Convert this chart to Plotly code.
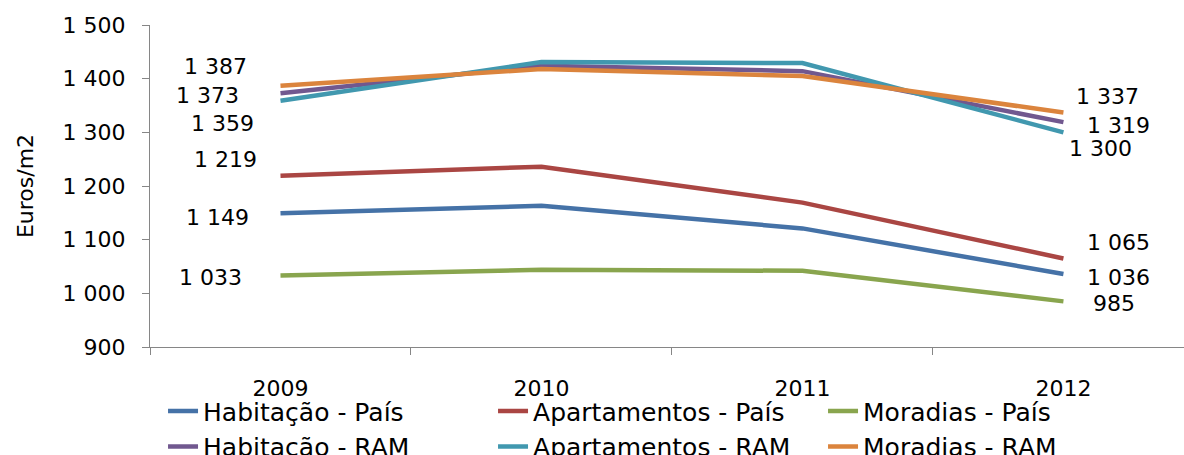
import plotly.graph_objects as go

# Average bank valuation of housing (euros per m2)
years = ["2009", "2010", "2011", "2012"]

habitacao_pais = [1149, 1163, 1121, 1036]
apartamentos_pais = [1219, 1236, 1169, 1065]
moradias_pais = [1033, 1044, 1042, 985]
habitacao_ram = [1373, 1424, 1414, 1319]
apartamentos_ram = [1359, 1431, 1429, 1300]
moradias_ram = [1387, 1418, 1405, 1337]

series_names = [
    "Habitação - País",
    "Apartamentos - País",
    "Moradias - País",
    "Habitação - RAM",
    "Apartamentos - RAM",
    "Moradias - RAM",
]
series_values = [
    habitacao_pais,
    apartamentos_pais,
    moradias_pais,
    habitacao_ram,
    apartamentos_ram,
    moradias_ram,
]
colors = ["#4572A7", "#AA4643", "#89A54E", "#71588F", "#4198AF", "#DB843D"]

# pixel offsets of the first / last value labels (dx, dy) per series
first_label_offset = [(-63, -4), (-55, 16), (-70, -2), (-73, -2), (-58, -23), (-65, 19)]
last_label_offset = [(55, -3), (55, 16), (51, -2), (55, -3), (37, -16), (44, 16)]

FONT = "DejaVu Sans, sans-serif"
AXIS_GRAY = "#868686"


def fmt(v):
    return f"{v:,}".replace(",", " ")


fig = go.Figure()
annotations = []
for name, vals, col, fo, lo in zip(series_names, series_values, colors,
                                   first_label_offset, last_label_offset):
    fig.add_trace(go.Scatter(
        x=years, y=vals, name=name, mode="lines",
        line=dict(color=col, width=4.5),
    ))
    for idx, off in ((0, fo), (len(vals) - 1, lo)):
        # category axes take the category index as annotation position
        annotations.append(dict(
            x=idx, y=vals[idx], xref="x", yref="y",
            text=fmt(vals[idx]), showarrow=False,
            xshift=off[0], yshift=off[1],
            xanchor="center", yanchor="middle",
            font=dict(family=FONT, size=22, color="black"),
        ))

fig.update_layout(
    width=1184,
    height=455,
    margin=dict(l=150, r=0, t=25, b=108, autoexpand=False),
    paper_bgcolor="white",
    plot_bgcolor="white",
    separators=", ",
    font=dict(family=FONT, size=22, color="black"),
    showlegend=True,
    legend=dict(
        orientation="h",
        x=0.0126,
        xanchor="left",
        y=-0.128,
        yanchor="top",
        entrywidth=285,
        entrywidthmode="pixels",
        font=dict(family=FONT, size=25, color="black"),
        bgcolor="rgba(0,0,0,0)",
        tracegroupgap=0,
    ),
    annotations=annotations,
)

fig.update_xaxes(
    type="category",
    categoryorder="array",
    categoryarray=years,
    range=[-0.5, 3.462],
    showline=True,
    linecolor=AXIS_GRAY,
    linewidth=1,
    ticks="outside",
    tickson="boundaries",
    ticklen=7,
    tickcolor=AXIS_GRAY,
    showgrid=False,
    zeroline=False,
    ticklabelstandoff=22,
    tickfont=dict(family=FONT, size=22, color="black"),
)
fig.update_yaxes(
    range=[900, 1500],
    dtick=100,
    tickformat=",d",
    showline=True,
    linecolor=AXIS_GRAY,
    linewidth=1,
    ticks="outside",
    ticklen=7,
    tickcolor=AXIS_GRAY,
    showgrid=False,
    zeroline=False,
    ticklabelstandoff=12,
    tickfont=dict(family=FONT, size=22, color="black"),
    title=dict(text="Euros/m2", standoff=22,
               font=dict(family=FONT, size=22, color="black")),
)

fig.write_html("out.html")
